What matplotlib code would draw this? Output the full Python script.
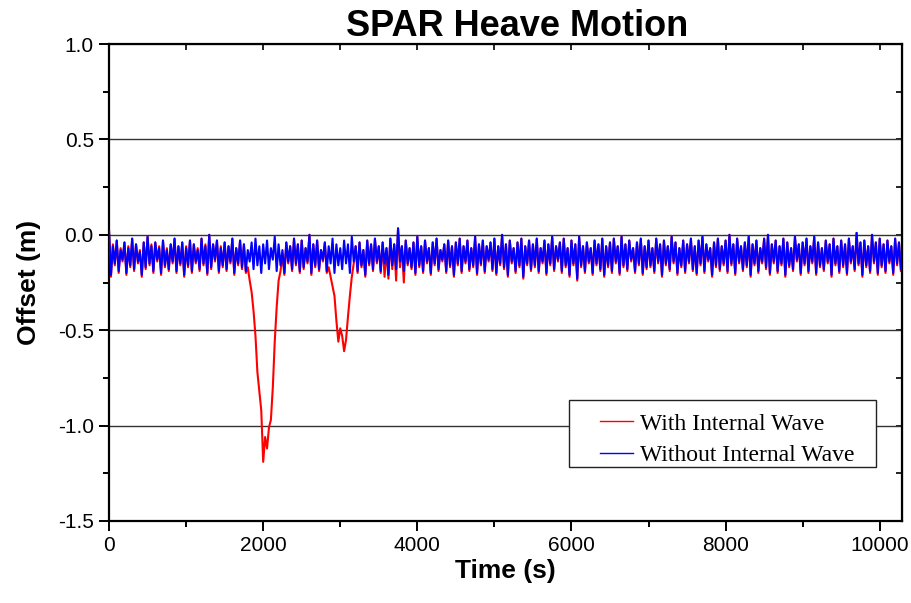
import matplotlib
matplotlib.use('Agg')
import matplotlib.pyplot as plt
from matplotlib.ticker import MultipleLocator
from matplotlib.patches import Rectangle
import numpy as np

plt.rcParams['axes.unicode_minus'] = False
plt.rcParams['font.family'] = ['Liberation Sans', 'DejaVu Sans']

# heave offset (m), one reading every 25 s
time_step = 25
blue_offset = [
    0.02, -0.21, -0.06, -0.15, -0.03, -0.19, -0.08, -0.13, -0.04, -0.20, -0.07, -0.16, -0.02, -0.18, -0.05, -0.14, -0.09, -0.21, -0.04, -0.17,
    -0.01, -0.15, -0.06, -0.19, -0.04, -0.13, -0.07, -0.20, -0.03, -0.16, -0.08, -0.18, -0.05, -0.14, -0.02, -0.19, -0.06, -0.15, -0.04, -0.21,
    -0.07, -0.16, -0.03, -0.19, -0.05, -0.14, -0.08, -0.18, -0.02, -0.15, -0.06, -0.20, 0.00, -0.17, -0.05, -0.13, -0.03, -0.19, -0.07, -0.16,
    -0.04, -0.18, -0.06, -0.14, -0.02, -0.20, -0.07, -0.15, -0.03, -0.17, -0.05, -0.19, -0.08, -0.14, -0.04, -0.18, -0.02, -0.16, -0.06, -0.20,
    -0.05, -0.15, -0.03, -0.18, -0.07, -0.13, -0.01, -0.19, -0.05, -0.16, -0.08, -0.20, -0.04, -0.14, -0.06, -0.18, -0.02, -0.15, -0.05, -0.19,
    -0.03, -0.17, -0.07, -0.14, 0.00, -0.20, -0.05, -0.16, -0.03, -0.18, -0.08, -0.13, -0.04, -0.19, -0.06, -0.15, -0.02, -0.20, -0.05, -0.16,
    -0.07, -0.18, -0.03, -0.15, -0.05, -0.20, -0.01, -0.14, -0.06, -0.19, -0.04, -0.16, -0.08, -0.21, -0.03, -0.15, -0.05, -0.18, -0.02, -0.14,
    -0.06, -0.19, -0.04, -0.15, -0.07, -0.21, -0.02, -0.16, -0.05, -0.18, 0.035, -0.14, -0.06, -0.19, -0.03, -0.15, -0.07, -0.17, -0.04, -0.20,
    -0.01, -0.16, -0.06, -0.19, -0.03, -0.14, -0.07, -0.20, -0.04, -0.15, -0.02, -0.18, -0.08, -0.13, -0.05, -0.19, -0.03, -0.16, -0.06, -0.21,
    -0.04, -0.15, -0.02, -0.19, -0.06, -0.14, -0.03, -0.18, -0.07, -0.16, -0.01, -0.20, -0.05, -0.15, -0.03, -0.19, -0.06, -0.13, -0.04, -0.18,
    -0.02, -0.20, -0.06, -0.15, 0.00, -0.17, -0.05, -0.21, -0.03, -0.14, -0.07, -0.19, -0.04, -0.16, -0.02, -0.22, -0.06, -0.15, -0.03, -0.18,
    -0.05, -0.16, -0.02, -0.19, -0.07, -0.14, -0.03, -0.20, -0.05, -0.15, -0.01, -0.18, -0.06, -0.13, -0.04, -0.19, -0.02, -0.16, -0.07, -0.21,
    -0.03, -0.15, -0.05, -0.23, -0.01, -0.16, -0.06, -0.19, -0.04, -0.14, -0.07, -0.20, -0.03, -0.15, -0.05, -0.18, -0.02, -0.21, -0.06, -0.16,
    -0.04, -0.19, -0.02, -0.14, -0.06, -0.20, -0.01, -0.16, -0.05, -0.18, -0.03, -0.13, -0.07, -0.19, -0.04, -0.15, -0.02, -0.20, -0.06, -0.17,
    -0.03, -0.16, -0.07, -0.19, -0.02, -0.14, -0.05, -0.21, -0.03, -0.15, -0.06, -0.18, -0.01, -0.14, -0.04, -0.20, -0.07, -0.16, -0.03, -0.19,
    -0.05, -0.14, -0.02, -0.18, -0.06, -0.20, -0.03, -0.15, -0.01, -0.19, -0.05, -0.13, -0.07, -0.21, -0.04, -0.16, -0.02, -0.18, -0.06, -0.15,
    -0.03, -0.19, 0.00, -0.15, -0.05, -0.20, -0.02, -0.14, -0.06, -0.18, -0.04, -0.16, -0.01, -0.21, -0.05, -0.15, -0.03, -0.19, -0.07, -0.14,
    -0.02, -0.17, 0.00, -0.20, -0.05, -0.14, -0.03, -0.19, -0.06, -0.15, -0.02, -0.21, -0.04, -0.16, -0.07, -0.18, -0.01, -0.13, -0.05, -0.20,
    -0.04, -0.15, -0.02, -0.19, -0.06, -0.14, -0.01, -0.20, -0.04, -0.16, -0.07, -0.18, -0.03, -0.14, -0.05, -0.21, -0.02, -0.15, -0.06, -0.19,
    -0.03, -0.16, -0.05, -0.20, -0.02, -0.14, -0.06, -0.18, 0.01, -0.15, -0.04, -0.21, -0.03, -0.16, -0.06, -0.19, 0.00, -0.14, -0.04, -0.20,
    -0.02, -0.16, -0.05, -0.19, -0.03, -0.14, -0.06, -0.20, -0.02, -0.15, -0.04, -0.18,
]
red_offset = [
    0.02, -0.22, -0.05, -0.16, -0.03, -0.20, -0.07, -0.14, -0.04, -0.21, -0.06, -0.17, -0.02, -0.19, -0.05, -0.15, -0.08, -0.22, -0.04, -0.18,
    -0.01, -0.16, -0.05, -0.20, -0.04, -0.14, -0.06, -0.21, -0.03, -0.17, -0.07, -0.19, -0.05, -0.15, -0.02, -0.20, -0.06, -0.16, -0.04, -0.22,
    -0.06, -0.17, -0.03, -0.20, -0.05, -0.15, -0.07, -0.19, -0.02, -0.16, -0.05, -0.21, 0.00, -0.18, -0.05, -0.14, -0.03, -0.20, -0.06, -0.17,
    -0.04, -0.19, -0.06, -0.15, -0.02, -0.21, -0.07, -0.16, -0.03, -0.18, -0.05, -0.20, -0.17, -0.24, -0.30, -0.40, -0.53, -0.72, -0.82, -0.92,
    -1.19, -1.06, -1.12, -1.01, -0.97, -0.80, -0.56, -0.38, -0.24, -0.19, -0.10, -0.21, -0.04, -0.15, -0.06, -0.19, -0.02, -0.16, -0.05, -0.20,
    -0.03, -0.18, -0.07, -0.15, 0.00, -0.21, -0.05, -0.17, -0.03, -0.19, -0.08, -0.14, -0.04, -0.20, -0.17, -0.22, -0.27, -0.32, -0.45, -0.56,
    -0.49, -0.53, -0.61, -0.55, -0.43, -0.32, -0.22, -0.15, -0.06, -0.20, -0.04, -0.17, -0.08, -0.22, -0.03, -0.16, -0.05, -0.19, -0.02, -0.15,
    -0.06, -0.20, -0.04, -0.22, -0.07, -0.23, -0.02, -0.18, -0.05, -0.24, 0.03, -0.17, -0.06, -0.25, -0.03, -0.16, -0.07, -0.18, -0.04, -0.21,
    -0.01, -0.17, -0.06, -0.20, -0.03, -0.15, -0.07, -0.21, -0.04, -0.16, -0.02, -0.19, -0.08, -0.14, -0.05, -0.20, -0.03, -0.17, -0.06, -0.22,
    -0.04, -0.16, -0.02, -0.20, -0.06, -0.15, -0.03, -0.19, -0.07, -0.17, -0.01, -0.21, -0.05, -0.16, -0.03, -0.20, -0.06, -0.14, -0.04, -0.19,
    -0.02, -0.21, -0.06, -0.16, 0.00, -0.18, -0.05, -0.22, -0.03, -0.15, -0.07, -0.20, -0.04, -0.17, -0.02, -0.23, -0.06, -0.16, -0.03, -0.19,
    -0.05, -0.17, -0.02, -0.20, -0.07, -0.15, -0.03, -0.21, -0.05, -0.16, -0.01, -0.19, -0.06, -0.14, -0.04, -0.20, -0.02, -0.17, -0.07, -0.22,
    -0.03, -0.16, -0.05, -0.24, -0.01, -0.17, -0.06, -0.20, -0.04, -0.15, -0.07, -0.21, -0.03, -0.16, -0.05, -0.19, -0.02, -0.22, -0.06, -0.17,
    -0.04, -0.20, -0.02, -0.15, -0.06, -0.21, -0.01, -0.17, -0.05, -0.19, -0.03, -0.14, -0.07, -0.20, -0.04, -0.16, -0.02, -0.21, -0.06, -0.18,
    -0.03, -0.17, -0.07, -0.20, -0.02, -0.15, -0.05, -0.22, -0.03, -0.16, -0.06, -0.19, -0.01, -0.15, -0.04, -0.21, -0.07, -0.17, -0.03, -0.20,
    -0.05, -0.15, -0.02, -0.19, -0.06, -0.21, -0.03, -0.16, -0.01, -0.20, -0.05, -0.14, -0.07, -0.22, -0.04, -0.17, -0.02, -0.19, -0.06, -0.16,
    -0.03, -0.20, 0.00, -0.16, -0.05, -0.21, -0.02, -0.15, -0.06, -0.19, -0.04, -0.17, -0.01, -0.22, -0.05, -0.16, -0.03, -0.20, -0.07, -0.15,
    -0.02, -0.18, 0.00, -0.21, -0.05, -0.15, -0.03, -0.20, -0.06, -0.16, -0.02, -0.22, -0.04, -0.17, -0.07, -0.19, -0.01, -0.14, -0.05, -0.21,
    -0.04, -0.16, -0.02, -0.20, -0.06, -0.15, -0.01, -0.21, -0.04, -0.17, -0.07, -0.19, -0.03, -0.15, -0.05, -0.22, -0.02, -0.16, -0.06, -0.20,
    -0.03, -0.17, -0.05, -0.21, -0.02, -0.15, -0.06, -0.19, 0.01, -0.16, -0.04, -0.22, -0.03, -0.17, -0.06, -0.20, 0.00, -0.15, -0.04, -0.21,
    -0.02, -0.17, -0.05, -0.20, -0.03, -0.15, -0.06, -0.21, -0.02, -0.16, -0.04, -0.19,
]
time = np.arange(len(blue_offset)) * time_step

fig = plt.figure(figsize=(9.11, 6.03), dpi=100)
ax = fig.add_axes([0.1197, 0.136, 0.8705, 0.791])

for y in [0.5, 0.0, -0.5, -1.0]:
    ax.axhline(y, color='#333333', lw=1.0, zorder=1)

ax.plot(time, red_offset, color='#ff0000', lw=1.5, label='With Internal Wave', zorder=2)
ax.plot(time, blue_offset, color='#0000ff', lw=1.5, label='Without Internal Wave', zorder=3)

ax.set_xlim(0, 10290)
ax.set_ylim(-1.5, 1.0)
ax.xaxis.set_major_locator(MultipleLocator(2000))
ax.xaxis.set_minor_locator(MultipleLocator(1000))
ax.yaxis.set_major_locator(MultipleLocator(0.5))
ax.yaxis.set_minor_locator(MultipleLocator(0.25))
ax.yaxis.set_major_formatter(plt.FuncFormatter(lambda v, p: '%.1f' % v))

for s in ax.spines.values():
    s.set_linewidth(1.6)
ax.tick_params(which='both', bottom=True, left=True, top=False, right=False,
               direction='out', width=1.4, labelsize=15)
ax.tick_params(which='major', length=7, pad=4)
ax.tick_params(which='minor', length=4)

# inward ticks on the top / right edges
ax2 = ax.secondary_xaxis('top')
ax2.xaxis.set_major_locator(MultipleLocator(2000))
ax2.xaxis.set_minor_locator(MultipleLocator(1000))
ax2.tick_params(which='both', direction='in', length=4, width=1.2, labeltop=False)
ax3 = ax.secondary_yaxis('right')
ax3.yaxis.set_major_locator(MultipleLocator(0.5))
ax3.yaxis.set_minor_locator(MultipleLocator(0.25))
ax3.tick_params(which='both', direction='in', length=4, width=1.2, labelright=False)

ax.set_title('SPAR Heave Motion', fontsize=26, fontweight='bold', pad=3, x=0.515)
ax.set_xlabel('Time (s)', fontsize=19, fontweight='bold', labelpad=3)
ax.set_ylabel('Offset (m)', fontsize=19, fontweight='bold', labelpad=12)

# legend: box drawn separately to get the wide left margin of the original
ax.add_patch(Rectangle((569 / 911, 1 - 467 / 603), 307 / 911, 67 / 603,
                       transform=fig.transFigure, facecolor='white',
                       edgecolor='#222222', lw=1.0, zorder=4))
leg = ax.legend(loc='upper left', bbox_to_anchor=(600 / 911, 1 - 413 / 603),
                bbox_transform=fig.transFigure,
                prop={'family': 'Liberation Serif', 'size': 17},
                frameon=False, handlelength=1.4, handletextpad=0.3,
                borderpad=0, borderaxespad=0, labelspacing=0.42)
leg.set_zorder(5)
for h in leg.get_lines():
    h.set_linewidth(1.0)

fig.savefig('out.png', dpi=100)
